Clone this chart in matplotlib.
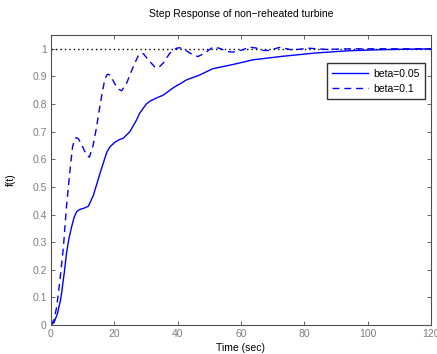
import matplotlib
matplotlib.use("Agg")
import matplotlib.pyplot as plt

plt.rcParams['font.family'] = ['Liberation Sans', 'DejaVu Sans']

# beta = 0.05 (solid)
t_a = [0, 1, 2, 3, 3.4, 4.2, 4.9, 5.7, 6.5, 7.3, 8.1, 9.0, 10.2, 11.8, 13.4, 15.5, 17.6, 18.6,
       20.2, 21.7, 22.8, 24.9, 27.0, 28.0, 30.1, 31.2, 33.3, 35.4, 38.5, 39.6, 40.6, 42.7,
       46.9, 51.1, 57.4, 63.7, 73.2, 83.7, 94.2, 104.7, 120]
f_a = [0, 0.01, 0.04, 0.09, 0.12, 0.19, 0.26, 0.315, 0.355, 0.39, 0.41, 0.418, 0.422, 0.43,
       0.47, 0.55, 0.625, 0.645, 0.662, 0.672, 0.676, 0.70, 0.742, 0.767, 0.80, 0.81, 0.822,
       0.832, 0.858, 0.866, 0.872, 0.887, 0.905, 0.928, 0.943, 0.96, 0.973, 0.985, 0.993,
       0.997, 1.0]

# beta = 0.1 (dashed)
t_b = [0, 1, 1.8, 2.8, 3.9, 4.9, 6.0, 6.8, 7.4, 7.9, 8.6, 9.7, 10.5, 11.3, 12.1, 13.2,
       14.4, 14.9, 16.0, 17.0, 17.8, 18.5, 19.2, 20.2, 21.3, 22.3, 23.9, 26.0, 27.6, 28.4,
       29.2, 30.7, 32.8, 33.9, 35.4, 37.5, 39.6, 40.6, 42.7, 44.8, 46.4, 48.5, 51.1, 53.2,
       55.8, 57.4, 60.5, 62.6, 64.7, 66.8, 68.9, 72.1, 76.3, 81.5, 86.8, 95, 120]
f_b = [0, 0.02, 0.066, 0.16, 0.28, 0.43, 0.56, 0.645, 0.67, 0.678, 0.675, 0.653, 0.632, 0.615,
       0.608, 0.645, 0.717, 0.755, 0.83, 0.89, 0.908, 0.906, 0.894, 0.872, 0.854, 0.848, 0.876,
       0.936, 0.976, 0.983, 0.982, 0.96, 0.934, 0.931, 0.948, 0.984, 1.002, 1.004, 0.993, 0.978,
       0.972, 0.984, 1.006, 1.002, 0.99, 0.988, 0.996, 1.006, 1.003, 0.994, 0.994, 1.005, 0.996,
       1.002, 0.998, 1.0, 1.0]

x_ticks = [0, 20, 40, 60, 80, 100, 120]
y_ticks = [0, 0.1, 0.2, 0.3, 0.4, 0.5, 0.6, 0.7, 0.8, 0.9, 1]
y_ticklabels = ['0', '0.1', '0.2', '0.3', '0.4', '0.5', '0.6', '0.7', '0.8', '0.9', '1']
labels = ['beta=0.05', 'beta=0.1']

fig = plt.figure(figsize=(4.37, 3.54), dpi=100)
ax = fig.add_axes([51/437, 29/354, 380/437, 290/354])

ax.plot([0, 120], [1, 1], color='black', linestyle=(0, (1, 2.2)), lw=1.0)
ax.plot(t_a, f_a, color='#0000ff', lw=1.0, label=labels[0])
ax.plot(t_b, f_b, color='#0000ff', lw=1.0, linestyle=(0, (5, 3.5)), label=labels[1])

ax.set_xlim(0, 120)
ax.set_ylim(0, 1.05)
ax.set_xticks(x_ticks)
ax.set_yticks(y_ticks)
ax.set_yticklabels(y_ticklabels)
ax.tick_params(direction='in', top=True, right=True, labelsize=7.5, labelcolor='#7f7f7f',
               colors='#505050', length=3, width=0.6, pad=3)
for s in ax.spines.values():
    s.set_color('#505050')
    s.set_linewidth(0.8)

ax.set_title('Step Response of non\u2212reheated turbine', fontsize=7.5, pad=13)
ax.set_xlabel('Time (sec)', fontsize=7.5, labelpad=2.5)
ax.set_ylabel('f(t)', fontsize=7.5, labelpad=12)

leg = ax.legend(loc='upper right', bbox_to_anchor=(0.997, 0.92), fontsize=7.5, frameon=True,
                fancybox=False, edgecolor='black', handlelength=3.4, borderpad=0.5,
                labelspacing=0.5, handletextpad=0.5)
leg.get_frame().set_linewidth(1.0)

fig.savefig('out.png', dpi=100)
